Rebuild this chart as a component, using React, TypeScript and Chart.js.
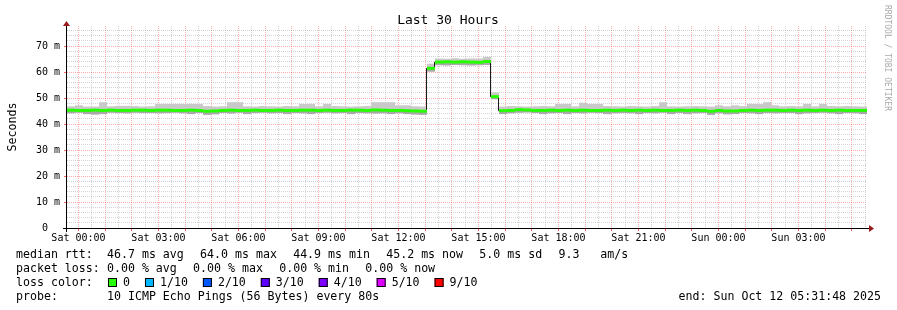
import { useEffect, useRef } from 'react';
import { Chart, registerables } from 'chart.js';

Chart.register(...registerables);

// ---- time axis (hours relative to Sat 00:00) ----
const startHour = -0.43;
const stepHours = 0.3;
const spanHours = 30;

// ---- series (ms) ----
const median = [
  45.3, 45.2, 45.2, 45.3, 45.2, 45.3, 45.2, 45.2, 45.3, 45.3,
  45.2, 45.3, 45.3, 45.2, 45.2, 45.3, 45.2, 44.9, 45.0, 45.2,
  45.3, 45.2, 45.2, 45.3, 45.2, 45.2, 45.3, 45.2, 45.2, 45.3,
  45.3, 45.2, 45.3, 45.2, 45.2, 45.3, 45.3, 45.2, 45.4, 45.3,
  45.2, 45.2, 45.1, 45.0, 44.9,
  61.4,
  63.8, 63.9, 63.8, 63.9, 63.8, 63.7, 64.0,
  50.5,
  45.1, 45.2, 45.5, 45.4, 45.2, 45.2,
  45.3, 45.2, 45.3, 45.2, 45.3, 45.2, 45.2, 45.3, 45.2, 45.3,
  45.2, 45.3, 45.2, 45.3, 45.2, 45.2, 45.3, 45.2, 45.3, 45.2,
  44.9, 45.2, 45.0, 45.0, 45.2, 45.3, 45.2, 45.3, 45.3, 45.2,
  45.3, 45.2, 45.3, 45.2, 45.3, 45.2, 45.3, 45.2, 45.2, 45.2,
];

const smokeHi = [
  46.8, 47.2, 46.7, 46.7, 48.4, 46.8, 47.0, 47.0, 46.9, 46.7,
  46.8, 47.7, 47.7, 47.7, 47.7, 47.7, 47.7, 46.9, 46.7, 46.8,
  48.4, 48.4, 46.8, 46.7, 46.9, 46.8, 46.7, 46.9, 46.8, 47.7,
  47.7, 46.8, 47.7, 46.9, 46.8, 46.7, 46.8, 46.9, 48.4, 48.4,
  48.4, 47.2, 47.2, 46.8, 46.7,
  63.2,
  65.2, 65.1, 65.3, 65.1, 65.2, 65.2, 65.8,
  52.1,
  46.7, 46.9, 46.8, 46.7, 46.8, 46.9,
  46.8, 47.7, 47.7, 46.8, 48.2, 47.7, 47.7, 46.9, 46.8, 46.7,
  46.9, 46.8, 46.7, 46.9, 48.4, 46.8, 46.7, 46.8, 46.9, 46.8,
  46.7, 47.2, 46.8, 47.2, 46.9, 47.7, 47.7, 48.4, 47.2, 46.8,
  46.9, 46.8, 47.7, 46.8, 47.7, 46.9, 46.8, 46.9, 46.8, 46.7,
];

const smokeLo = [
  44.1, 44.3, 43.8, 43.6, 43.8, 44.3, 44.2, 44.1, 44.3, 44.2,
  44.2, 44.1, 44.2, 44.3, 44.1, 43.8, 44.2, 43.5, 43.7, 44.2,
  44.0, 44.3, 43.8, 44.2, 44.3, 44.1, 44.2, 43.8, 44.2, 44.1,
  43.8, 44.2, 44.3, 44.1, 44.2, 43.8, 44.2, 44.1, 44.0, 44.1,
  43.8, 44.1, 43.8, 43.6, 43.5,
  60.1,
  62.6, 62.5, 62.7, 62.6, 62.5, 62.6, 62.7,
  49.5,
  43.8, 44.1, 44.3, 44.4, 44.2, 43.8,
  44.1, 44.2, 43.8, 44.2, 44.1, 44.3, 44.2, 43.8, 44.1, 44.2,
  44.1, 43.8, 44.2, 44.1, 44.3, 43.8, 44.2, 43.8, 44.1, 44.2,
  43.5, 44.1, 43.7, 43.8, 44.2, 44.1, 43.8, 44.2, 44.1, 44.2,
  44.2, 43.8, 44.1, 44.2, 44.3, 44.1, 43.8, 44.2, 44.1, 43.8,
];

// ---- ticks ----
const xTickHours = [0, 3, 6, 9, 12, 15, 18, 21, 24, 27];
const xTickLabels = [
  'Sat 00:00', 'Sat 03:00', 'Sat 06:00', 'Sat 09:00', 'Sat 12:00',
  'Sat 15:00', 'Sat 18:00', 'Sat 21:00', 'Sun 00:00', 'Sun 03:00',
];
const yTickValues = [0, 10, 20, 30, 40, 50, 60, 70];
const yTickLabels = ['0  ', '10 m', '20 m', '30 m', '40 m', '50 m', '60 m', '70 m'];

// ---- legend texts ----
const titleText = 'Last 30 Hours';
const yAxisTitle = 'Seconds';
const watermark = 'RRDTOOL / TOBI OETIKER';
const rttLabel = 'median rtt:';
const rttStats = ['46.7 ms avg', '64.0 ms max', '44.9 ms min', '45.2 ms now', '5.0 ms sd', '9.3   am/s'];
const lossLabel = 'packet loss:';
const lossStats = ['0.00 % avg', '0.00 % max', '0.00 % min', '0.00 % now'];
const lossColorLabel = 'loss color:';
const lossLabels = ['0', '1/10', '2/10', '3/10', '4/10', '5/10', '9/10'];
const lossColors = ['#26ff00', '#00b8ff', '#0059ff', '#5e00ff', '#7e00ff', '#dd00ff', '#ff0000'];
const probeLabel = 'probe:';
const probeText = '10 ICMP Echo Pings (56 Bytes) every 80s';
const endText = 'end: Sun Oct 12 05:31:48 2025';

const MONO = '"DejaVu Sans Mono", monospace';
const MAJOR = 'rgba(255,0,0,0.32)';
const MINOR = 'rgba(140,140,140,0.38)';

const decorPlugin = {
  id: 'decor',
  beforeDraw(chart: any) {
    const ctx = chart.ctx;
    ctx.save();
    ctx.fillStyle = '#ffffff';
    ctx.fillRect(0, 0, chart.width, chart.height);
    ctx.restore();
  },
  beforeDatasetDraw(chart: any, args: any) {
    if (args.meta.type === 'line') {
      chart.ctx.save();
      chart.ctx.translate(-0.5, 0);
    }
  },
  afterDatasetDraw(chart: any, args: any) {
    if (args.meta.type === 'line') chart.ctx.restore();
  },
  afterDraw(chart: any) {
    const ctx = chart.ctx;
    const ca = chart.chartArea;
    ctx.save();
    // axes
    ctx.fillStyle = '#000';
    ctx.fillRect(ca.left - 4, ca.bottom, ca.right - ca.left + 6, 1);
    ctx.fillRect(ca.left - 1, ca.top - 2, 1, ca.bottom - ca.top + 6);
    // arrows
    ctx.fillStyle = '#9c1c1c';
    ctx.beginPath();
    ctx.moveTo(ca.right + 2, ca.bottom - 3);
    ctx.lineTo(ca.right + 7, ca.bottom + 0.5);
    ctx.lineTo(ca.right + 2, ca.bottom + 4);
    ctx.closePath();
    ctx.fill();
    ctx.beginPath();
    ctx.moveTo(ca.left - 4, ca.top);
    ctx.lineTo(ca.left - 0.5, ca.top - 5);
    ctx.lineTo(ca.left + 3, ca.top);
    ctx.closePath();
    ctx.fill();

    // title
    ctx.fillStyle = '#000';
    ctx.font = `13px ${MONO}`;
    ctx.textAlign = 'center';
    ctx.textBaseline = 'alphabetic';
    ctx.fillText(titleText, 448, 24);

    // y title
    ctx.save();
    ctx.translate(15.5, 127);
    ctx.rotate(-Math.PI / 2);
    ctx.font = `11.6px ${MONO}`;
    ctx.textAlign = 'center';
    ctx.fillText(yAxisTitle, 0, 0);
    ctx.restore();

    // watermark
    ctx.save();
    ctx.translate(885, 5);
    ctx.rotate(Math.PI / 2);
    ctx.font = `8px ${MONO}`;
    ctx.fillStyle = '#aaaaaa';
    ctx.textAlign = 'left';
    ctx.fillText(watermark, 0, 0);
    ctx.restore();

    // legend
    ctx.font = `11.6px ${MONO}`;
    ctx.textAlign = 'left';
    ctx.fillStyle = '#000';
    const gap = 16.3;
    const colX = 107;
    const row = (label: string, items: string[], y: number) => {
      ctx.fillText(label, 16, y);
      let x = colX;
      for (const it of items) {
        ctx.fillText(it, x, y);
        x += ctx.measureText(it).width + gap;
      }
    };
    row(rttLabel, rttStats, 258);
    row(lossLabel, lossStats, 272);

    ctx.fillText(lossColorLabel, 16, 286);
    let x = 108;
    lossLabels.forEach((lab, i) => {
      ctx.fillStyle = lossColors[i];
      ctx.fillRect(x, 278, 9, 9);
      ctx.strokeStyle = '#000';
      ctx.lineWidth = 1;
      ctx.strokeRect(x + 0.5, 278.5, 8, 8);
      ctx.fillStyle = '#000';
      ctx.fillText(lab, x + 15, 286);
      x = x + 15 + ctx.measureText(lab).width + 15;
    });

    ctx.fillText(probeLabel, 16, 300);
    ctx.fillText(probeText, colX, 300);
    ctx.textAlign = 'right';
    ctx.fillText(endText, 881, 300);
    ctx.restore();
  },
};

export default function App() {
  const ref = useRef<HTMLCanvasElement>(null);

  useEffect(() => {
    const canvas = ref.current;
    if (!canvas) return;
    const n = median.length;
    const center = (k: number) => startHour + stepHours * (k + 0.5);
    const lightData = median.map((m, k) => ({ x: center(k), y: [m, smokeHi[k]] }));
    const darkData = median.map((m, k) => ({ x: center(k), y: [smokeLo[k], m] }));
    const greenData = median.map((m, k) => ({ x: center(k), y: [m - 0.55, m + 0.6] }));
    const lineData = median.map((m, k) => ({ x: startHour + stepHours * k, y: m }));
    lineData.push({ x: startHour + spanHours, y: median[n - 1] });

    const xGrid: number[] = [];
    for (let i = 0; i * 0.5 <= startHour + spanHours; i++) xGrid.push(i * 0.5);
    const yGrid: number[] = [];
    for (let v = 0; v <= 76; v += 2) yGrid.push(v);

    const barCommon = {
      type: 'bar' as const,
      grouped: false,
      barPercentage: 1,
      categoryPercentage: 1,
      borderWidth: 0,
      inflateAmount: 0,
    };

    const chart = new Chart(canvas, {
      type: 'bar',
      data: {
        datasets: [
          { ...barCommon, data: greenData as any, backgroundColor: '#26ff00', order: 1 },
          {
            type: 'line',
            data: lineData as any,
            borderColor: '#1a1a1a',
            borderWidth: 1,
            pointRadius: 0,
            fill: false,
            stepped: true,
            order: 2,
          } as any,
          { ...barCommon, data: darkData as any, backgroundColor: '#a9a9a9', order: 3 },
          { ...barCommon, data: lightData as any, backgroundColor: '#c9c9c9', order: 4 },
        ],
      },
      options: {
        animation: false,
        responsive: false,
        devicePixelRatio: 1,
        layout: { padding: { top: 26, right: 30, left: 0, bottom: 0 } },
        plugins: { legend: { display: false }, tooltip: { enabled: false }, title: { display: false } },
        scales: {
          x: {
            type: 'linear',
            min: startHour,
            max: startHour + spanHours,
            offset: false,
            afterFit: (s: any) => { s.height = 82; },
            afterBuildTicks: (s: any) => { s.ticks = xGrid.map((v) => ({ value: v })); },
            ticks: {
              autoSkip: false,
              maxRotation: 0,
              minRotation: 0,
              padding: 1,
              color: '#000',
              font: { family: MONO, size: 10 },
              callback: (v: any) => {
                const i = xTickHours.indexOf(Number(v));
                return i >= 0 ? xTickLabels[i] : '';
              },
            },
            grid: {
              offset: false,
              lineWidth: 1,
              color: (c: any) => (Number.isInteger(c.tick?.value) ? MAJOR : MINOR),
              drawTicks: true,
              tickLength: 3,
              tickColor: (c: any) => (Number.isInteger(c.tick?.value) ? 'rgba(255,0,0,0.6)' : 'rgba(0,0,0,0)'),
            },
            border: { display: false, dash: [1, 1] },
          } as any,
          y: {
            type: 'linear',
            min: 0,
            max: 202 / 2.6,
            afterFit: (s: any) => { s.width = 67; },
            afterBuildTicks: (s: any) => { s.ticks = yGrid.map((v) => ({ value: v })); },
            ticks: {
              autoSkip: false,
              padding: 4,
              color: '#000',
              font: { family: MONO, size: 10 },
              callback: (v: any) => {
                const i = yTickValues.indexOf(Number(v));
                return i >= 0 ? yTickLabels[i] : '';
              },
            },
            grid: {
              lineWidth: 1,
              color: (c: any) => (c.tick && c.tick.value % 10 === 0 ? MAJOR : MINOR),
              drawTicks: true,
              tickLength: 3,
              tickColor: (c: any) => (c.tick && c.tick.value % 10 === 0 ? 'rgba(255,0,0,0.6)' : 'rgba(0,0,0,0)'),
            },
            border: { display: false, dash: [1, 1] },
          } as any,
        },
      },
      plugins: [decorPlugin],
    });

    return () => chart.destroy();
  }, []);

  return (
    <div style={{ position: 'fixed', left: 0, top: 0, width: 897, height: 310, background: '#fff' }}>
      <canvas ref={ref} width={897} height={310} style={{ display: 'block', width: 897, height: 310 }} />
    </div>
  );
}
